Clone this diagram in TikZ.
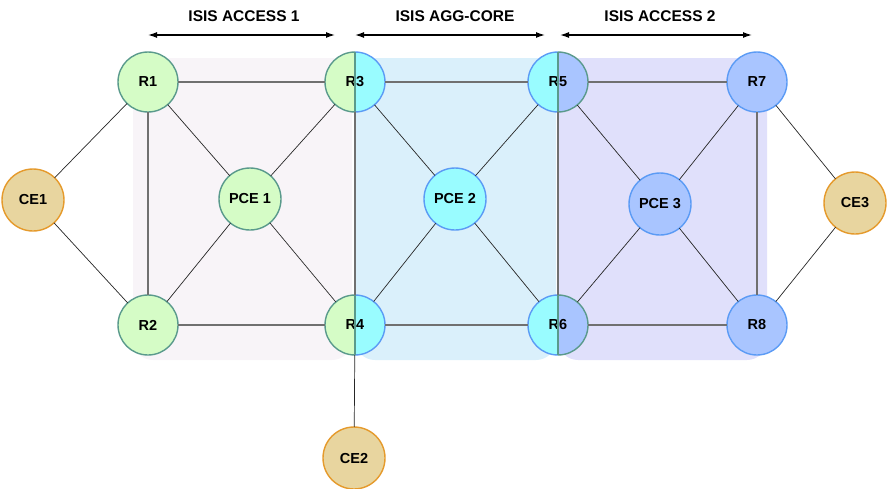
\documentclass[tikz,border=0pt]{standalone}
\usepackage{fontspec}
\setmainfont{Liberation Sans}
\usetikzlibrary{arrows.meta}

\definecolor{grfill}{HTML}{D5FCC6}
\definecolor{grline}{HTML}{5A9A8C}
\definecolor{cyfill}{HTML}{99FCFF}
\definecolor{blfill}{HTML}{A9C5FF}
\definecolor{blline}{HTML}{5B9BF5}
\definecolor{cefill}{HTML}{E8D59F}
\definecolor{celine}{HTML}{E59A2C}
\definecolor{pinkbg}{HTML}{F8F4F8}
\definecolor{bluebg}{HTML}{DAF0FB}
\definecolor{lavbg}{HTML}{E0E0FB}
\definecolor{linkgray}{HTML}{707070}

\tikzset{
  router/.style={circle, minimum size=60pt, inner sep=0pt, outer sep=0pt,
    line width=1.4pt, font=\bfseries\fontsize{14.5}{16}\selectfont},
  rgreen/.style={router, draw=grline, fill=grfill},
  rblue/.style={router, draw=blline, fill=blfill},
  rpce/.style={router, minimum size=62pt},
  rce/.style={router, minimum size=62pt, draw=celine, fill=cefill},
  rsplit/.style 2 args={router, path picture={
    \fill[#1] (path picture bounding box.south west) rectangle (path picture bounding box.north);
    \fill[#2] (path picture bounding box.north) rectangle (path picture bounding box.south east);}},
  sq/.style={draw=linkgray, line width=1.5pt},
  thin/.style={draw=black!85, line width=0.7pt},
  span/.style={line width=1.3pt, {Latex[length=9pt,width=6pt]}-{Latex[length=9pt,width=6pt]}},
  zone/.style={font=\bfseries\fontsize{15.5}{17}\selectfont}
}

\newcommand{\splitring}[3]{%
  \draw[line width=1.4pt,#2] (#1.north) arc[start angle=90,end angle=270,radius=30pt];
  \draw[line width=1.4pt,#3] (#1.north) arc[start angle=90,end angle=-90,radius=30pt];
  \draw[line width=1.4pt,grline] (#1.north) -- (#1.south);}

\begin{document}
\begin{tikzpicture}[x=1pt,y=1pt]
  \useasboundingbox (0,0) rectangle (888,-488);

  \fill[pinkbg, rounded corners=20pt] (133,-58) rectangle (352,-360);
  \fill[bluebg, rounded corners=20pt] (355,-58) rectangle (556,-360);
  \fill[lavbg, rounded corners=20pt] (558,-58) rectangle (767,-360);

  \coordinate (a1l) at (148,-35); \coordinate (a1r) at (335,-35);
  \coordinate (a2l) at (355,-35); \coordinate (a2r) at (545,-35);
  \coordinate (a3l) at (560,-35); \coordinate (a3r) at (752,-35);
  \draw[span] (a1l) -- (a1r);
  \draw[span] (a2l) -- (a2r);
  \draw[span] (a3l) -- (a3r);
  \node[zone] (z1) at (244,-16) {ISIS ACCESS 1};
  \node[zone] (z2) at (455,-16) {ISIS AGG-CORE};
  \node[zone] (z3) at (660,-16) {ISIS ACCESS 2};

  \node[rgreen] (r1) at (148,-82) {R1};
  \node[rgreen] (r2) at (148,-325) {R2};
  \node[rsplit={grfill}{cyfill}] (r3) at (355,-82) {R3};
  \node[rsplit={grfill}{cyfill}] (r4) at (355,-325) {R4};
  \node[rsplit={cyfill}{blfill}] (r5) at (558,-82) {R5};
  \node[rsplit={cyfill}{blfill}] (r6) at (558,-325) {R6};
  \node[rblue] (r7) at (757,-82) {R7};
  \node[rblue] (r8) at (757,-325) {R8};

  \node[rpce, draw=grline, fill=grfill] (pce1) at (250,-199) {PCE 1};
  \node[rpce, draw=blline, fill=cyfill] (pce2) at (455,-199) {PCE 2};
  \node[rpce, draw=blline, fill=blfill] (pce3) at (660,-204) {PCE 3};

  \node[rce] (ce1) at (33,-200) {CE1};
  \node[rce] (ce2) at (354,-458) {CE2};
  \node[rce] (ce3) at (855,-203) {CE3};

  \splitring{r3}{grline}{blline}
  \splitring{r4}{grline}{blline}
  \splitring{r5}{blline}{grline}
  \splitring{r6}{blline}{grline}

  \draw[sq] (r1) -- (r3) -- (r5) -- (r7);
  \draw[sq] (r2) -- (r4) -- (r6) -- (r8);
  \draw[sq] (r1) -- (r2);
  \draw[sq] (r3) -- (r4);
  \draw[sq] (r5) -- (r6);
  \draw[sq] (r7) -- (r8);

  \foreach \a in {r1,r2,r3,r4} \draw[thin] (pce1) -- (\a);
  \foreach \a in {r3,r4,r5,r6} \draw[thin] (pce2) -- (\a);
  \foreach \a in {r5,r6,r7,r8} \draw[thin] (pce3) -- (\a);
  \draw[thin] (ce1) -- (r1);
  \draw[thin] (ce1) -- (r2);
  \draw[thin] (ce3) -- (r7);
  \draw[thin] (ce3) -- (r8);
  \draw[thin] (ce2) -- (r4);
\end{tikzpicture}
\end{document}
